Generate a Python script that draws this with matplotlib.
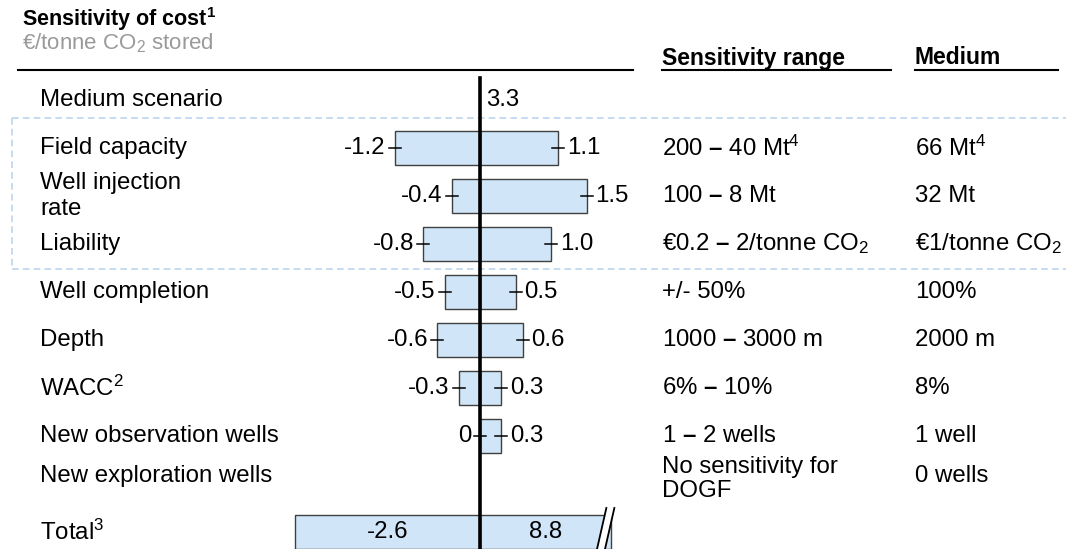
import matplotlib.pyplot as plt
from matplotlib.transforms import blended_transform_factory

plt.rcParams['font.family'] = ['Liberation Sans', 'DejaVu Sans']
plt.rcParams['mathtext.default'] = 'regular'
plt.rcParams['mathtext.fontset'] = 'custom'
plt.rcParams['mathtext.rm'] = 'Liberation Sans'
plt.rcParams['mathtext.bf'] = 'Liberation Sans:bold'

DASH = r"$\mathbf{–}$"

# Rows of the tornado chart, top to bottom.
labels = ["Medium scenario", "Field capacity", "Well injection\nrate", "Liability",
          "Well completion", "Depth", "WACC$^2$", "New observation wells",
          "New exploration wells", "Total$^3$"]
low = [None, -1.2, -0.4, -0.8, -0.5, -0.6, -0.3, 0.0, None, -2.6]
high = [None, 1.1, 1.5, 1.0, 0.5, 0.6, 0.3, 0.3, None, 8.8]
low_text = [None, "-1.2", "-0.4", "-0.8", "-0.5", "-0.6", "-0.3", "0", None, "-2.6"]
high_text = [None, "1.1", "1.5", "1.0", "0.5", "0.6", "0.3", "0.3", None, "8.8"]
medium_cost = 3.3
ranges = ["", f"200 {DASH} 40 Mt$^4$", f"100 {DASH} 8 Mt", f"€0.2 {DASH} 2/tonne CO$_2$",
          "+/- 50%", f"1000 {DASH} 3000 m", f"6% {DASH} 10%", f"1 {DASH} 2 wells",
          "No sensitivity for\nDOGF", ""]
mediums = ["", "66 Mt$^4$", "32 Mt", "€1/tonne CO$_2$", "100%", "2000 m", "8%",
           "1 well", "0 wells", ""]

W, H = 1066, 549
PX = 71.0        # pixels per €/tonne
ROW = 48.0       # pixels per row
X0, Y0 = 480, 100
BREAK = 1.85     # where the total bar gets cut
fill = '#d0e5f8'
edge = '#404040'
fs = 17.3

fig = plt.figure(figsize=(W / 100, H / 100), dpi=100)
ax = fig.add_axes([0, 0, 1, 1])
ax.set_xlim(-X0 / PX, (W - X0) / PX)
ax.set_ylim((H - Y0) / ROW, -Y0 / ROW)
ax.axis('off')

def px(x):
    return (x - X0) / PX

def py(y):
    return (y - Y0) / ROW

tr = blended_transform_factory(fig.transFigure, ax.transData)
tick = 6 / PX
gap = 9 / PX

for i, lab in enumerate(labels):
    yoff = -0.17 if i == 8 else 0
    ax.text(40 / W, i + yoff, lab, transform=tr, fontsize=fs, va='center', ha='left',
            linespacing=1.2)
    if ranges[i]:
        ax.text(662 / W, i + (-0.1 if i == 8 else 0), ranges[i], transform=tr, fontsize=fs,
                va='center', ha='left', linespacing=1.1)
    if mediums[i]:
        ax.text(915 / W, i + yoff, mediums[i], transform=tr, fontsize=fs,
                va='center', ha='left')

    if low[i] is None:
        continue
    if i == len(labels) - 1:
        # total row: labels inside, right side broken
        ax.barh(i, low[i], height=0.71, color=fill, edgecolor=edge, linewidth=1)
        ax.barh(i, BREAK, height=0.71, color=fill, edgecolor=edge, linewidth=1)
        ax.text(low[i] / 2, i, low_text[i], fontsize=fs, ha='center', va='center')
        ax.text(BREAK / 2, i, high_text[i], fontsize=fs, ha='center', va='center')
        bx = BREAK - 10 / PX
        ax.plot([bx - 1 / PX, bx + 9 / PX], [py(552), py(508)], color='white', lw=5,
                solid_capstyle='butt', zorder=4)
        for d in (-4, 4):
            ax.plot([bx + (d - 1) / PX, bx + (d + 9) / PX], [py(552), py(508)],
                    color='black', lw=1.3, zorder=5)
        continue
    ax.barh(i, high[i], height=0.71, color=fill, edgecolor=edge, linewidth=1)
    if low[i] != 0:
        ax.barh(i, low[i], height=0.71, color=fill, edgecolor=edge, linewidth=1)
    for v in (low[i], high[i]):
        ax.plot([v - tick, v + tick], [i, i], color='black', lw=1.1, zorder=3)
    ax.text(low[i] - gap, i, low_text[i], fontsize=fs, ha='right', va='center')
    ax.text(high[i] + gap, i, high_text[i], fontsize=fs, ha='left', va='center')

ax.text(6 / PX, 0, f"{medium_cost}", fontsize=fs, ha='left', va='center')

# Zero line
ax.plot([0, 0], [py(78), py(H + 5)], color='black', lw=2.6, zorder=6)

# Dashed box around the storage-specific rows
box = '#bcd6ef'
ax.plot([px(12), px(W + 5)], [py(118), py(118)], color=box, lw=1.2, ls=(0, (4, 2.5)))
ax.plot([px(12), px(W + 5)], [py(269), py(269)], color=box, lw=1.2, ls=(0, (4, 2.5)))
ax.plot([px(12), px(12)], [py(118), py(269)], color=box, lw=1.2, ls=(0, (4, 2.5)))

# Headers
fig.text(22 / W, 1 - 19 / H, "Sensitivity of cost$^1$", fontsize=15.5, fontweight='bold',
         va='center', ha='left')
fig.text(22 / W, 1 - 43 / H, "€/tonne CO$_2$ stored", fontsize=16, color='#9a9a9a',
         va='center', ha='left')
fig.text(662 / W, 1 - 58 / H, "Sensitivity range", fontsize=16.5, fontweight='bold',
         va='center', ha='left')
fig.text(915 / W, 1 - 58 / H, "Medium", fontsize=16.5, fontweight='bold',
         va='center', ha='left')
for x1, x2 in [(18, 633), (662, 891), (915, 1058)]:
    ax.plot([px(x1), px(x2)], [py(70), py(70)], color='black', lw=1.5)

fig.savefig('out.png', dpi=100)
